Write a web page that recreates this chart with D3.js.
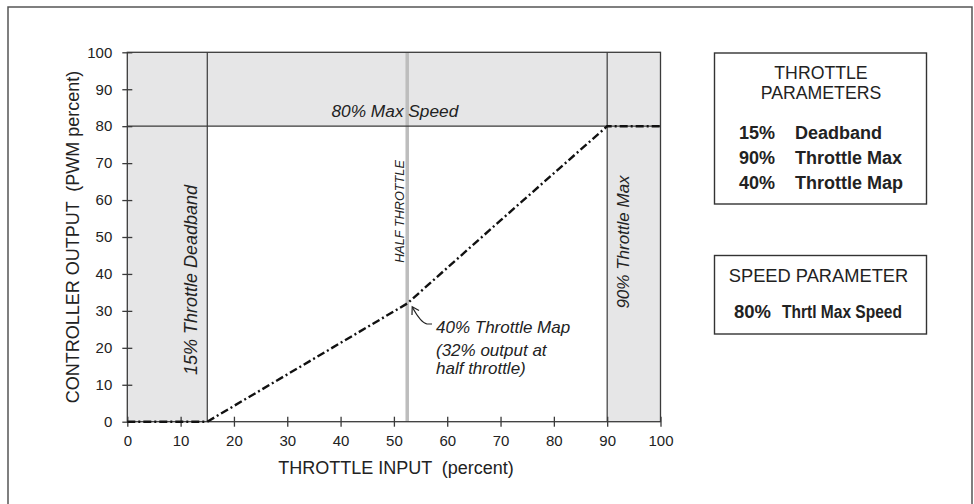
<!DOCTYPE html>
<html>
<head>
<meta charset="utf-8">
<script src="https://cdn.jsdelivr.net/npm/d3@7"></script>
<style>
  html, body { margin: 0; padding: 0; background: #fff; }
  svg { display: block; font-family: "Liberation Sans", Arial, Helvetica, sans-serif; }
</style>
</head>
<body>
<script>
// chart values
var xTicks = [0, 10, 20, 30, 40, 50, 60, 70, 80, 90, 100];
var yTicks = [0, 10, 20, 30, 40, 50, 60, 70, 80, 90, 100];
var curveX = [0, 15, 30, 52.5, 70, 90, 100];
var curveY = [0, 0, 12.8, 32, 54.5, 80, 80];
var deadband = 15;
var throttleMax = 90;
var maxSpeed = 80;
var halfThrottle = 52.5;
var throttleParams = [["15%", "Deadband"], ["90%", "Throttle Max"], ["40%", "Throttle Map"]];
var speedParams = [["80%", "Thrtl Max Speed"]];

var width = 974;
var height = 504;
var shade = '#e6e6e7';
var ink = '#3a3a3a';

var svg = d3.select('body').append('svg')
  .attr('width', width)
  .attr('height', height);

// outer frame (bottom edge runs off the picture)
svg.append('rect')
  .attr('x', 8).attr('y', 7)
  .attr('width', 964).attr('height', 520)
  .attr('fill', 'none')
  .attr('stroke', '#555')
  .attr('stroke-width', 1.5);

var x = d3.scaleLinear().domain([0, 100]).range([127.3, 660.5]);
var y = d3.scaleLinear().domain([0, 100]).range([421.7, 52.3]);

var plot = svg.append('g');

// shaded regions
plot.append('rect')
  .attr('x', x(0)).attr('y', y(100))
  .attr('width', x(100) - x(0)).attr('height', y(0) - y(100))
  .attr('fill', shade);
plot.append('rect')
  .attr('x', x(deadband)).attr('y', y(maxSpeed))
  .attr('width', x(throttleMax) - x(deadband)).attr('height', y(0) - y(maxSpeed))
  .attr('fill', '#fff');

// half throttle line
plot.append('line')
  .attr('x1', x(halfThrottle)).attr('x2', x(halfThrottle))
  .attr('y1', y(100)).attr('y2', y(0))
  .attr('stroke', '#bdbdbd').attr('stroke-width', 3.5);

// parameter lines
[deadband, throttleMax].forEach(function(v) {
  plot.append('line')
    .attr('x1', x(v)).attr('x2', x(v))
    .attr('y1', y(100)).attr('y2', y(0))
    .attr('stroke', ink).attr('stroke-width', 1.2);
});
plot.append('line')
  .attr('x1', x(0)).attr('x2', x(100))
  .attr('y1', y(maxSpeed)).attr('y2', y(maxSpeed))
  .attr('stroke', ink).attr('stroke-width', 1.2);

// plot border
plot.append('rect')
  .attr('x', x(0)).attr('y', y(100))
  .attr('width', x(100) - x(0)).attr('height', y(0) - y(100))
  .attr('fill', 'none')
  .attr('stroke', ink).attr('stroke-width', 1.3);

// axes
var xAxis = svg.append('g')
  .attr('transform', 'translate(0,' + y(0) + ')')
  .call(d3.axisBottom(x).tickValues(xTicks).tickSizeOuter(0).tickPadding(10));
xAxis.select('.domain').remove();
xAxis.selectAll('.tick line').attr('y1', -5).attr('y2', 5).attr('stroke', ink).attr('stroke-width', 1.3);
xAxis.selectAll('.tick text').attr('font-size', 15).attr('fill', '#222').attr('dy', '0.55em')
  .style('font-family', '"Liberation Sans", Arial, sans-serif');

var yAxis = svg.append('g')
  .attr('transform', 'translate(' + x(0) + ',0)')
  .call(d3.axisLeft(y).tickValues(yTicks).tickSizeOuter(0).tickPadding(9));
yAxis.select('.domain').remove();
yAxis.selectAll('.tick line').attr('x1', -5).attr('x2', 5).attr('stroke', ink).attr('stroke-width', 1.3);
yAxis.selectAll('.tick text').attr('font-size', 15).attr('fill', '#222')
  .style('font-family', '"Liberation Sans", Arial, sans-serif');

// throttle curve
var pts = curveX.map(function(v, i) { return [v, curveY[i]]; });
var line = d3.line().x(function(d) { return x(d[0]); }).y(function(d) { return y(d[1]); });
svg.append('path')
  .attr('d', line(pts))
  .attr('fill', 'none')
  .attr('stroke', '#111')
  .attr('stroke-width', 2.4)
  .attr('stroke-dasharray', '8,3,2,3');

// axis titles
svg.append('text')
  .attr('x', 396).attr('y', 474)
  .attr('text-anchor', 'middle')
  .attr('font-size', 18).attr('fill', '#222')
  .attr('xml:space', 'preserve')
  .text('THROTTLE INPUT  (percent)');
svg.append('text')
  .attr('transform', 'translate(79,' + ((y(0) + y(100)) / 2) + ') rotate(-90)')
  .attr('text-anchor', 'middle')
  .attr('font-size', 18).attr('fill', '#222')
  .attr('xml:space', 'preserve')
  .text('CONTROLLER OUTPUT  (PWM percent)');

// annotations
function italic(t, px, py, size, rot) {
  var el = svg.append('text')
    .attr('font-size', size).attr('font-style', 'italic').attr('fill', '#222')
    .text(t);
  if (rot) {
    el.attr('transform', 'translate(' + px + ',' + py + ') rotate(-90)').attr('text-anchor', 'middle');
  } else {
    el.attr('x', px).attr('y', py);
  }
  return el;
}
italic('80% Max Speed', (x(0) + x(100)) / 2 + 1, 117, 17.3).attr('text-anchor', 'middle');
italic('15% Throttle Deadband', 196.5, 280, 18, true);
italic('90% Throttle Max', 629, 242, 17, true);
italic('HALF THROTTLE', 403.5, 211.5, 12.7, true);
italic('40% Throttle Map', 436, 332.5, 17);
italic('(32% output at', 436, 356, 17);
italic('half throttle)', 436, 374, 17);

// arrow to the half throttle point
svg.append('path')
  .attr('d', 'M432,324 L427,324 Q421,323 412.5,307.5')
  .attr('fill', 'none').attr('stroke', '#222').attr('stroke-width', 1.2);
svg.append('path')
  .attr('d', 'M412,315 L412.2,306.8 L419,310.5')
  .attr('fill', 'none').attr('stroke', '#222').attr('stroke-width', 1.2);

// parameter boxes
function box(y0, h) {
  svg.append('rect')
    .attr('x', 714.5).attr('y', y0)
    .attr('width', 212).attr('height', h)
    .attr('fill', '#fff').attr('stroke', '#333').attr('stroke-width', 1.4);
}
box(53, 151);
box(255.5, 78.5);

svg.append('text').attr('x', 821).attr('y', 78.5).attr('text-anchor', 'middle')
  .attr('font-size', 17.7).attr('fill', '#222').text('THROTTLE');
svg.append('text').attr('x', 821).attr('y', 98.5).attr('text-anchor', 'middle')
  .attr('font-size', 17.7).attr('fill', '#222').text('PARAMETERS');

throttleParams.forEach(function(p, i) {
  var by = 138.5 + i * 25;
  svg.append('text').attr('x', 739).attr('y', by)
    .attr('font-size', 18).attr('font-weight', 'bold').attr('fill', '#222').text(p[0]);
  svg.append('text').attr('x', 795).attr('y', by)
    .attr('font-size', 18).attr('font-weight', 'bold').attr('fill', '#222').text(p[1]);
});

svg.append('text').attr('x', 818.5).attr('y', 281.5).attr('text-anchor', 'middle')
  .attr('font-size', 18.3).attr('fill', '#222').text('SPEED PARAMETER');
speedParams.forEach(function(p, i) {
  var by = 317.5 + i * 25;
  svg.append('text').attr('x', 734).attr('y', by)
    .attr('font-size', 18).attr('font-weight', 'bold').attr('fill', '#222')
    .attr('textLength', 37).attr('lengthAdjust', 'spacingAndGlyphs').text(p[0]);
  svg.append('text').attr('x', 782).attr('y', by)
    .attr('font-size', 18).attr('font-weight', 'bold').attr('fill', '#222')
    .attr('textLength', 120).attr('lengthAdjust', 'spacingAndGlyphs').text(p[1]);
});
</script>
</body>
</html>
